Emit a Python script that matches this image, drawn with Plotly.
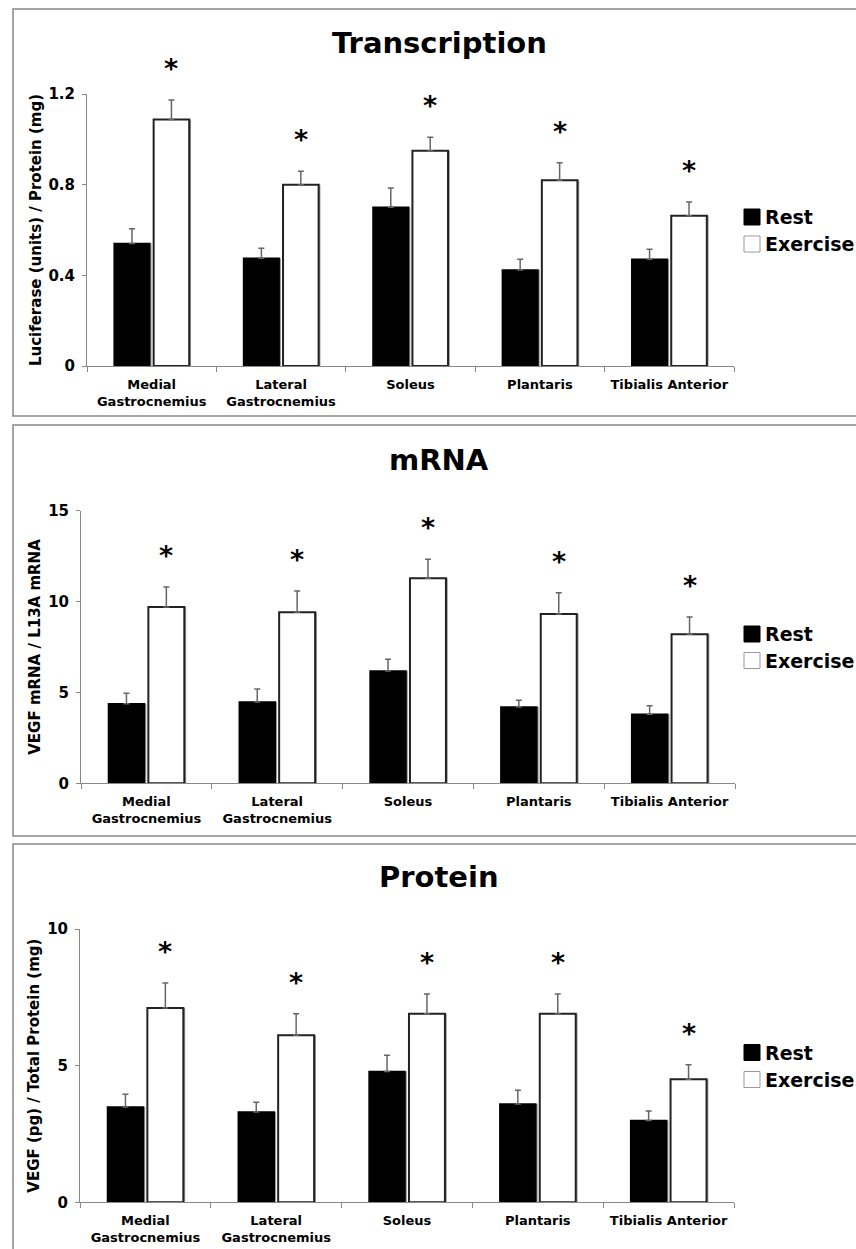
import plotly.graph_objects as go

categories = ["Medial<br>Gastrocnemius", "Lateral<br>Gastrocnemius", "Soleus", "Plantaris", "Tibialis Anterior"]
series_names = ["Rest", "Exercise"]

panel_titles = ["Transcription", "mRNA", "Protein"]
y_titles = ["Luciferase (units) / Protein (mg)", "VEGF mRNA / L13A mRNA", "VEGF (pg) / Total Protein (mg)"]

trans_rest = [0.54, 0.475, 0.70, 0.423, 0.471]
trans_rest_err = [0.066, 0.045, 0.085, 0.048, 0.044]
trans_ex = [1.088, 0.80, 0.95, 0.82, 0.663]
trans_ex_err = [0.085, 0.059, 0.059, 0.077, 0.06]

mrna_rest = [4.38, 4.47, 6.18, 4.20, 3.80]
mrna_rest_err = [0.57, 0.72, 0.64, 0.37, 0.47]
mrna_ex = [9.70, 9.41, 11.28, 9.32, 8.20]
mrna_ex_err = [1.10, 1.17, 1.05, 1.17, 0.95]

prot_rest = [3.49, 3.30, 4.79, 3.60, 2.99]
prot_rest_err = [0.46, 0.36, 0.59, 0.50, 0.35]
prot_ex = [7.11, 6.11, 6.90, 6.90, 4.50]
prot_ex_err = [0.91, 0.79, 0.72, 0.72, 0.53]

y_ranges = [[0, 1.2], [0, 15], [0, 10]]
y_tickvals = [[0, 0.4, 0.8, 1.2], [0, 5, 10, 15], [0, 5, 10]]
y_ticktext = [["0", "0.4", "0.8", "1.2"], ["0", "5", "10", "15"], ["0", "5", "10"]]

panels = [
    (trans_rest, trans_rest_err, trans_ex, trans_ex_err),
    (mrna_rest, mrna_rest_err, mrna_ex, mrna_ex_err),
    (prot_rest, prot_rest_err, prot_ex, prot_ex_err),
]

W, H = 856, 1249
FONT = "DejaVu Sans"

# pixel layout (top-based)
x_dom_px = [(87, 734), (81, 735), (80, 734)]
y_dom_px = [(94, 366), (510.7, 783.3), (929, 1202.3)]
frame_px = [(9, 416), (425, 836), (844, 1262)]
title_y_px = [43, 460, 877]
legend_rows_px = [(217, 244), (634, 660.5), (1052.5, 1079.5)]
LEG_SQ_X, LEG_SQ, LEG_TXT_X = 744, 16, 763

REST_OFF, EX_OFF, BW = -0.29, 0.015, 0.275
SH = 0.014

fig = go.Figure()
for i, (r, re, e, ee) in enumerate(panels):
    xa = "x" if i == 0 else f"x{i+1}"
    ya = "y" if i == 0 else f"y{i+1}"
    # shadows
    for vals, off in [(r, REST_OFF), (e, EX_OFF)]:
        fig.add_trace(go.Bar(x=categories, y=vals, offset=off + SH, width=BW,
                             marker=dict(color="#9a9a9a", line=dict(width=0)),
                             showlegend=False, hoverinfo="skip", xaxis=xa, yaxis=ya))
    fig.add_trace(go.Bar(x=categories, y=r, name=series_names[0], offset=REST_OFF, width=BW,
                         marker=dict(color="black", line=dict(color="black", width=1.5)),
                         error_y=dict(type="data", symmetric=False, array=re, arrayminus=[0]*5,
                                      color="#666666", thickness=1.5, width=3),
                         showlegend=False, xaxis=xa, yaxis=ya))
    fig.add_trace(go.Bar(x=categories, y=e, name=series_names[1], offset=EX_OFF, width=BW,
                         marker=dict(color="white", line=dict(color="#222222", width=2)),
                         error_y=dict(type="data", symmetric=False, array=ee, arrayminus=[0]*5,
                                      color="#666666", thickness=1.5, width=3),
                         showlegend=False, xaxis=xa, yaxis=ya))
    # asterisks
    for k in range(5):
        fig.add_annotation(x=k + EX_OFF + BW / 2, y=e[k] + ee[k], xref=xa, yref=ya,
                           text="*", showarrow=False, yanchor="bottom", yshift=14,
                           font=dict(family=FONT, size=27, color="black", weight="bold"))
    # title
    fig.add_annotation(x=439 / W, y=1 - title_y_px[i] / H, xref="paper", yref="paper",
                       text=panel_titles[i], showarrow=False, xanchor="center", yanchor="middle",
                       font=dict(family=FONT, size=29, color="black", weight="bold"))
    # frame
    f0, f1 = frame_px[i]
    fig.add_shape(type="rect", xref="paper", yref="paper", x0=13 / W, x1=1.1,
                  y0=1 - f1 / H, y1=1 - f0 / H, line=dict(color="#888888", width=1.5))
    # legend (squares + labels)
    for name, cy, fill, lc in zip(series_names, legend_rows_px[i], ["black", "white"], ["black", "#999999"]):
        fig.add_shape(type="rect", xref="paper", yref="paper",
                      x0=LEG_SQ_X / W, x1=(LEG_SQ_X + LEG_SQ) / W,
                      y0=1 - (cy + LEG_SQ / 2) / H, y1=1 - (cy - LEG_SQ / 2) / H,
                      fillcolor=fill, line=dict(color=lc, width=1))
        fig.add_annotation(x=LEG_TXT_X / W, y=1 - cy / H, xref="paper", yref="paper",
                           text=name, showarrow=False, xanchor="left", yanchor="middle",
                           font=dict(family=FONT, size=19, color="black", weight="bold"))

    xd = x_dom_px[i]
    yd = y_dom_px[i]
    xkey = "xaxis" if i == 0 else f"xaxis{i+1}"
    ykey = "yaxis" if i == 0 else f"yaxis{i+1}"
    fig.update_layout(**{
        xkey: dict(domain=[xd[0] / W, xd[1] / W], anchor=ya, type="category", automargin=False,
                   range=[-0.5, 4.5], showline=True, linecolor="#888888", linewidth=1,
                   ticks="outside", tickson="boundaries", ticklen=5, tickcolor="#888888",
                   showgrid=False, zeroline=False, ticklabelstandoff=6,
                   tickfont=dict(family=FONT, size=13, color="black", weight="bold")),
        ykey: dict(domain=[1 - yd[1] / H, 1 - yd[0] / H], anchor=xa, range=y_ranges[i],
                   automargin=False, tickvals=y_tickvals[i], ticktext=y_ticktext[i],
                   showline=True, linecolor="#888888", linewidth=1,
                   ticks="outside", ticklen=4, tickcolor="#888888", showgrid=False,
                   zeroline=False, ticklabelstandoff=4,
                   tickfont=dict(family=FONT, size=15, color="black", weight="bold"),
                   title=dict(text=y_titles[i], standoff=3,
                              font=dict(family=FONT, size=15, color="black", weight="bold"))),
    })

fig.update_layout(width=W, height=H, margin=dict(l=0, r=0, t=0, b=0, autoexpand=False),
                  paper_bgcolor="white", plot_bgcolor="white", barmode="overlay",
                  showlegend=False)
fig.write_html(
    "out.html",
    config={"displayModeBar": False},
    post_script=(
        "document.documentElement.style.overflow='hidden';"
        "document.body.style.margin='0';document.body.style.padding='0';"
    ),
)
